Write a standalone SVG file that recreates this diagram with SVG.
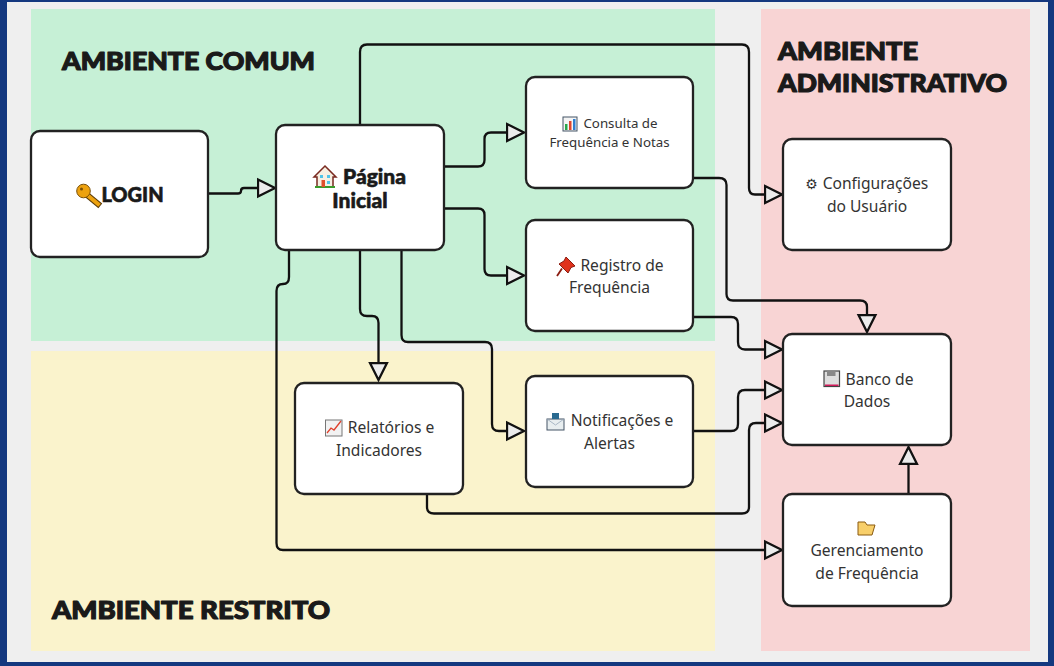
<svg xmlns="http://www.w3.org/2000/svg" width="1054" height="666" viewBox="0 0 1054 666">
<style>
.box{fill:#fff;stroke:#222;stroke-width:2.300}
.c{fill:none;stroke:#111;stroke-width:2.300;marker-end:url(#a)}
.h{font-family:"Lato","Liberation Sans",sans-serif;font-weight:900;fill:#1a1a1a;stroke:#1a1a1a;stroke-width:1.200;stroke-linejoin:round;font-size:25px}
.b{font-family:"Lato","Liberation Sans",sans-serif;font-weight:900;fill:#1a1a1a;stroke:#1a1a1a;stroke-width:.6;stroke-linejoin:round;font-size:21px;text-anchor:middle}
.t{font-family:"Noto Sans","Open Sans",sans-serif;fill:#333;font-size:15.600px;text-anchor:middle}
.s{font-size:13.300px}
</style>
<defs>
<marker id="a" markerUnits="userSpaceOnUse" markerWidth="22" markerHeight="22" refX="1" refY="11" orient="auto" viewBox="0 0 22 22">
<path d="M1 2.500L18 11L1 19.500Z" fill="#ececec" stroke="#111" stroke-width="2.300" stroke-linejoin="miter"/>
</marker>
</defs>
<rect width="1054" height="666" fill="#14387f"/>
<rect x="7" y="2" width="1041" height="660" fill="#efefef"/>
<rect x="31" y="9" width="684" height="332" fill="#c6f0d6"/>
<rect x="31" y="351" width="684" height="300" fill="#faf3cc"/>
<rect x="761" y="9" width="269" height="642" fill="#f8d4d4"/>
<g id="zone-labels">
<text class="h" x="62" y="70" textLength="253" lengthAdjust="spacingAndGlyphs">AMBIENTE COMUM</text>
<text class="h" x="778" y="60" textLength="140" lengthAdjust="spacingAndGlyphs">AMBIENTE</text>
<text class="h" x="778" y="92" textLength="229" lengthAdjust="spacingAndGlyphs">ADMINISTRATIVO</text>
<text class="h" x="52" y="619" textLength="278" lengthAdjust="spacingAndGlyphs">AMBIENTE RESTRITO</text>
</g>
<g id="connectors">
<path class="c" d="M208 193.500H238Q241 193.500 241 191Q241 188 244 188H258"/>
<path class="c" d="M444 166.500H478Q484.500 166.500 484.500 160V139Q484.500 132.500 491 132.500H507"/>
<path class="c" d="M444 208.500H478Q484.500 208.500 484.500 215V269Q484.500 275.500 491 275.500H507"/>
<path class="c" d="M360 125V52Q360 44.500 367 44.500H742Q749 44.500 749 52V188Q749 194.500 755 194.500H765"/>
<path class="c" d="M360 250V309Q360 316 367 316H372Q378.500 316 378.500 323V363"/>
<path class="c" d="M401.500 250V335Q401.500 342 408 342H485Q492 342 492 349V424Q492 431 499 431H507"/>
<path class="c" d="M289 250V277Q289 284 283 284Q276.500 284 276.500 291V543Q276.500 550 283 550H765"/>
<path class="c" d="M693 178H719Q726.500 178 726.500 185V294Q726.500 300.500 733 300.500H860Q867 300.500 867 307V315"/>
<path class="c" d="M693 317H731Q738 317 738 324V342Q738 349.500 745 349.500H765"/>
<path class="c" d="M693 431H731Q738 431 738 424V397Q738 390 745 390H765"/>
<path class="c" d="M427 494V507Q427 513.500 434 513.500H742Q749 513.500 749 507V430Q749 423 756 423H765"/>
<path class="c" d="M908.500 494V464"/>
</g>
<g id="login"><rect class="box" x="31" y="131" width="177" height="126" rx="9"/>
<path d="M86 194L98 204" stroke="#5a3a08" stroke-width="6" stroke-linecap="square"/><path d="M86 194L98 204" stroke="#eda20f" stroke-width="4" stroke-linecap="square"/><circle cx="83.500" cy="191" r="6.800" fill="#eda20f" stroke="#7a5008" stroke-width="1"/><circle cx="81.500" cy="189" r="1.500" fill="#7a5008"/>
<text class="b" x="132.500" y="201.500" style="font-size:20px">LOGIN</text></g>
<g id="pagina"><rect class="box" x="276" y="125" width="168" height="125" rx="9"/>
<path d="M325 166L336 177H333V187H317V177H314Z" fill="#f6efe2" stroke="#7a2a20" stroke-width="1.500"/><rect x="315" y="186" width="20" height="2" fill="#3a9a2a"/><rect x="321.500" y="180" width="3.500" height="7" fill="#e0502c"/><rect x="320" y="175" width="3" height="3" fill="#4fc3e8"/><rect x="327" y="175" width="3" height="3" fill="#4fc3e8"/><rect x="327" y="181" width="3" height="3" fill="#4fc3e8"/>
<text class="b" x="374.500" y="184">Página</text><text class="b" x="360" y="208">Inicial</text></g>
<g id="consulta"><rect class="box" x="526" y="77" width="167" height="111" rx="9"/>
<rect x="563" y="117" width="14" height="14" fill="#f4f4f4" stroke="#456" stroke-width="1"/><rect x="565" y="124" width="2.500" height="6" fill="#2aa84a"/><rect x="569" y="121" width="2.500" height="9" fill="#e0452c"/><rect x="573" y="119" width="2.500" height="11" fill="#2f7fd0"/>
<text class="t s" x="620.500" y="128">Consulta de</text><text class="t s" x="609.500" y="147">Frequência e Notas</text></g>
<g id="registro"><rect class="box" x="526" y="220" width="167" height="111" rx="9"/>
<path d="M566 257L575 266L571 267.500L568 273L559 264L564 261Z" fill="#e0321c" stroke="#8a1c10" stroke-width="1"/><path d="M562 268.500L557 276" stroke="#8a1c10" stroke-width="1.800" fill="none"/>
<text class="t" x="622" y="271">Registro de</text><text class="t" x="609.500" y="293">Frequência</text></g>
<g id="config"><rect class="box" x="783" y="139" width="168" height="111" rx="9"/>
<text x="811.500" y="189" font-family="DejaVu Sans" font-size="14" fill="#333" text-anchor="middle">⚙</text><text class="t" x="875.500" y="189">Configurações</text><text class="t" x="867" y="212">do Usuário</text></g>
<g id="banco"><rect class="box" x="783" y="334" width="168" height="111" rx="9"/>
<rect x="824" y="371" width="15.500" height="15.500" fill="#dedede" stroke="#444" stroke-width="1.200"/><rect x="827" y="371" width="8.500" height="5" fill="#888"/><rect x="825" y="384.500" width="13.500" height="1.500" fill="#d01a5a"/>
<text class="t" x="879.500" y="385">Banco de</text><text class="t" x="867" y="407">Dados</text></g>
<g id="relatorios"><rect class="box" x="295" y="383" width="168" height="111" rx="9"/>
<rect x="325.500" y="420" width="16.500" height="16" fill="#f2f2f2" stroke="#777" stroke-width="1"/><path d="M327 433L331 428L334 430L341 421" fill="none" stroke="#e0402c" stroke-width="1.300"/>
<text class="t" x="391" y="433">Relatórios e</text><text class="t" x="379" y="456">Indicadores</text></g>
<g id="notificacoes"><rect class="box" x="526" y="376" width="167" height="111" rx="9"/>
<rect x="547" y="419" width="17" height="11" fill="#e8eef0" stroke="#456" stroke-width="1"/><rect x="552" y="413" width="7" height="6" fill="#2a6a90"/><path d="M547 419L555.500 425L564 419" fill="none" stroke="#9ab" stroke-width=".8"/>
<text class="t" x="622" y="426">Notificações e</text><text class="t" x="609.500" y="449">Alertas</text></g>
<g id="gerenciamento"><rect class="box" x="783" y="494" width="168" height="112" rx="9"/>
<path d="M858 522V535H872L875 525H867L865 522Z" fill="#f8cf6a" stroke="#8a5a10" stroke-width="1"/>
<text class="t" x="867" y="556">Gerenciamento</text><text class="t" x="867" y="579">de Frequência</text></g>
</svg>
